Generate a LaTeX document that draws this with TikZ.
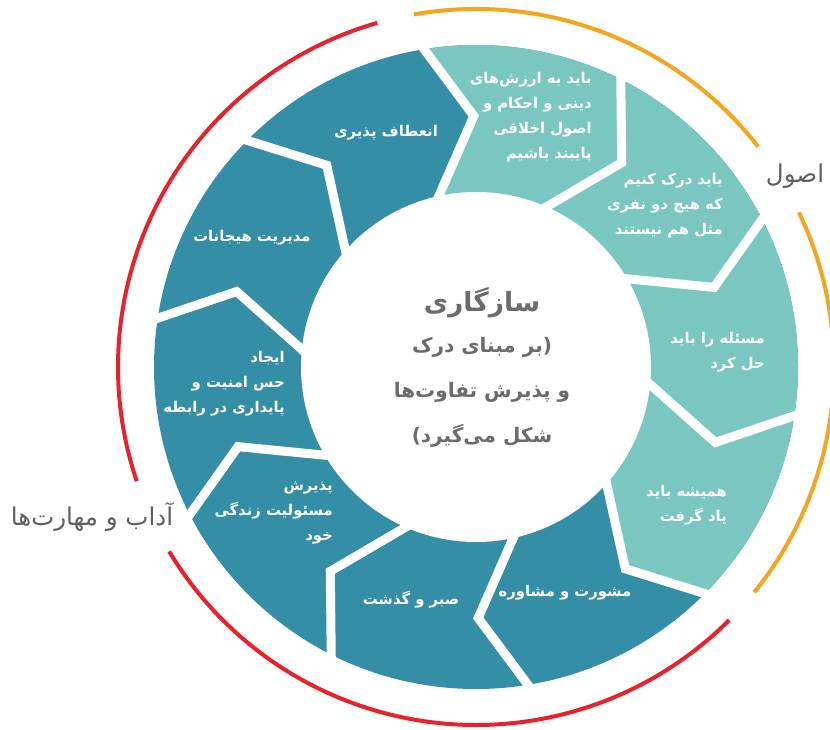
\documentclass[tikz,border=0pt]{standalone}
\usepackage{fontspec}
\TeXXeTstate=1
\newfontfamily\fafont[Script=Arabic]{DejaVu Sans}
\usetikzlibrary{calc}
\definecolor{segdark}{HTML}{338EA6}
\definecolor{seglight}{HTML}{7AC6C1}
\definecolor{txtgray}{HTML}{6A6B6E}
\definecolor{labelgray}{HTML}{5E5F62}
\definecolor{arcorange}{HTML}{F5A41F}
\definecolor{arcred}{HTML}{E8212A}
\newcommand\faline[1]{\beginR #1\endR}
\begin{document}
\begin{tikzpicture}[x=1pt,y=1pt,
  segtext/.style={font=\fafont\bfseries\fontsize{14.8}{25}\selectfont, text=white, align=right, inner sep=0pt},
  gapline/.style={draw=white, line width=9pt, line join=miter},
  arcline/.style={line width=4pt},
  titletext/.style={font=\fafont\bfseries\fontsize{26.5}{30}\selectfont, text=txtgray, inner sep=0pt},
  bodytext/.style={font=\fafont\bfseries\fontsize{20}{45}\selectfont, text=txtgray, align=center, inner sep=0pt},
  sidelabel/.style={font=\fafont\fontsize{24.5}{28}\selectfont, text=labelgray, inner sep=0pt}]
\useasboundingbox (0,0) rectangle (830,729);
\coordinate (O) at (476,362);
\foreach \a [count=\i] in {100,64,28,-8,-44,-80,-116,-152,-188,-224} {
  \coordinate (bo\i) at ($(O)+(\a:330pt)$);
  \coordinate (bt\i) at ($(O)+(\a-9.5:251pt)$);
  \coordinate (bi\i) at ($(O)+(\a+3.5:170pt)$);
}
% ring
\fill[segdark] (O) circle[radius=322pt];
\begin{scope}
  \clip (O) circle[radius=322pt];
  \fill[seglight] ($(bt1)!1.5!(bo1)$) -- (bt1) -- ($(bt1)!2!(bi1)$) -- ($(bt5)!2!(bi5)$) -- (bt5) -- ($(bt5)!1.5!(bo5)$)
     -- ($(O)+(-20:480pt)$) -- ($(O)+(28:480pt)$) -- ($(O)+(76:480pt)$) -- cycle;
\end{scope}
\foreach \i in {1,...,10}
  \draw[gapline] ($(bt\i)!1.2!(bo\i)$) -- (bt\i) -- ($(bt\i)!1.6!(bi\i)$);
\fill[white] (O) circle[radius=175pt];
% outer arcs
\draw[arcline, arcorange] ($(O)+(100:358pt)$) arc[start angle=100, end angle=38, radius=358pt];
\draw[arcline, arcorange] ($(O)+(25.6:358pt)$) arc[start angle=25.6, end angle=-39, radius=358pt];
\draw[arcline, arcred] ($(O)+(106:358pt)$) arc[start angle=106, end angle=198.6, radius=358pt];
\draw[arcline, arcred] ($(O)+(211:358pt)$) arc[start angle=211, end angle=315, radius=358pt];
% segment texts
\node[segtext, anchor=east] (t1) at (592,612) {\faline{باید به ارزش‌های}\\\faline{دینی و احکام و}\\\faline{اصول اخلاقی}\\\faline{پایبند باشیم}};
\node[segtext, anchor=east] (t2) at (723,523) {\faline{باید درک کنیم}\\\faline{که هیچ دو نفری}\\\faline{مثل هم نیستند}};
\node[segtext, anchor=east] (t3) at (765,377) {\faline{مسئله را باید}\\\faline{حل کرد}};
\node[segtext, anchor=east] (t4) at (727,224) {\faline{همیشه باید}\\\faline{یاد گرفت}};
\node[segtext] (t5) at (565,136) {\faline{مشورت و مشاوره}};
\node[segtext] (t6) at (411,129) {\faline{صبر و گذشت}};
\node[segtext, anchor=east] (t7) at (333,216) {\faline{پذیرش}\\\faline{مسئولیت زندگی}\\\faline{خود}};
\node[segtext, anchor=east] (t8) at (285,345) {\faline{ایجاد}\\\faline{حس امنیت و}\\\faline{پایداری در رابطه}};
\node[segtext] (t9) at (252,491) {\faline{مدیریت هیجانات}};
\node[segtext] (t10) at (386,596) {\faline{انعطاف پذیری}};
% centre
\node[titletext] (title) at (482,426) {\faline{سازگاری}};
\node[bodytext] (body) at (482,337) {\faline{(بر مبنای درک}\\\faline{و پذیرش تفاوت‌ها}\\\faline{شکل می‌گیرد)}};
% side labels
\node[sidelabel] (usul) at (795,553) {\faline{اصول}};
\node[sidelabel] (adab) at (92,212) {\faline{آداب و مهارت‌ها}};
\end{tikzpicture}
\end{document}
